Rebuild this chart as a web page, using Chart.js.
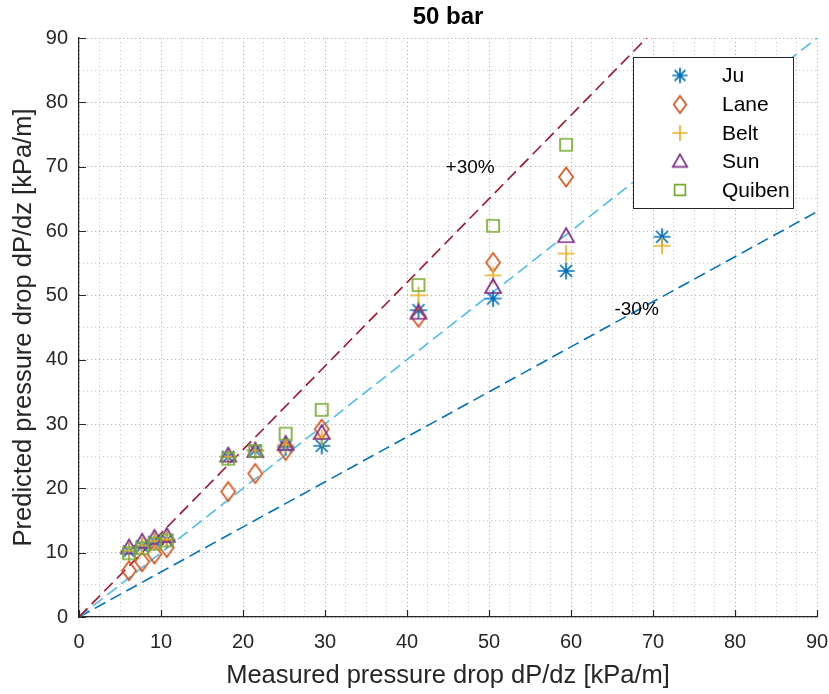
<!DOCTYPE html>
<html>
<head>
<meta charset="utf-8">
<script src="https://cdn.jsdelivr.net/npm/chart.js@4/dist/chart.umd.min.js"></script>
<style>
  html, body { margin: 0; padding: 0; background: #ffffff; }
  #wrap { width: 829px; height: 694px; position: relative; }
</style>
</head>
<body>
<div id="wrap"><canvas id="c" width="829" height="694"></canvas></div>
<script>
// ---------- data ----------
const chartTitle = '50 bar';
const xTitle = 'Measured pressure drop dP/dz [kPa/m]';
const yTitle = 'Predicted pressure drop dP/dz [kPa/m]';
const seriesNames = ['Ju', 'Lane', 'Belt', 'Sun', 'Quiben'];
const measured = [6.1, 7.7, 9.2, 10.7, 18.2, 21.5, 25.2, 29.6, 41.4, 50.5, 59.4, 71.1];
const juPred     = [10.2, 11.0, 11.7, 12.0, 24.9, 25.9, 26.5, 26.6, 47.7, 49.5, 53.8, 59.1];
const lanePred   = [7.2, 8.6, 9.8, 10.8, 19.5, 22.3, 25.9, 29.2, 46.6, 55.1, 68.4];
const beltPred   = [10.3, 11.1, 11.8, 12.1, 24.9, 25.9, 26.8, 27.8, 50.0, 53.1, 56.5, 57.7];
const sunPred    = [10.8, 11.7, 12.3, 12.6, 25.1, 25.8, 26.9, 28.6, 47.3, 51.3, 59.2];
const quibenPred = [9.9, 10.7, 11.4, 11.9, 24.6, 25.8, 28.5, 32.2, 51.6, 60.8, 73.4];
const plus30X = [0, 69.23], plus30Y = [0, 90];
const equalX = [0, 90], equalY = [0, 90];
const minus30X = [0, 90], minus30Y = [0, 63];
const plus30Label = '+30%', plus30LabelAt = [47.7, 69.8];
const minus30Label = '-30%', minus30LabelAt = [68.0, 47.7];
const axisMin = 0, axisMax = 90;
const majorTicks = [0, 10, 20, 30, 40, 50, 60, 70, 80, 90];

// ---------- styles ----------
const FONT = "'Liberation Sans', Arial, Helvetica, sans-serif";
const TXT = '#262626';
const colors = ['#0072BD', '#D95319', '#EDB120', '#7E2F8E', '#77AC30'];
const markerTypes = ['star', 'diamond', 'plus', 'triangle', 'square'];

function makeMarker(type, color, scale) {
  const s = scale || 1;
  const c = document.createElement('canvas');
  c.width = 24; c.height = 24;
  const g = c.getContext('2d');
  g.strokeStyle = color; g.lineWidth = 1.7; g.lineJoin = 'miter';
  const m = 12;
  g.beginPath();
  if (type === 'star') {
    const a = 8.5 * s, d = 6.0 * s;
    g.moveTo(m, m - a); g.lineTo(m, m + a);
    g.moveTo(m - a, m); g.lineTo(m + a, m);
    g.moveTo(m - d, m - d); g.lineTo(m + d, m + d);
    g.moveTo(m - d, m + d); g.lineTo(m + d, m - d);
  } else if (type === 'diamond') {
    const h = 9.5 * s, w = 7 * s;
    g.moveTo(m, m - h); g.lineTo(m + w, m); g.lineTo(m, m + h); g.lineTo(m - w, m); g.closePath();
  } else if (type === 'plus') {
    const a = 8.5 * s;
    g.moveTo(m, m - a); g.lineTo(m, m + a);
    g.moveTo(m - a, m); g.lineTo(m + a, m);
  } else if (type === 'triangle') {
    const w = 8 * s, t = 8 * s, b = 6 * s;
    g.moveTo(m, m - t); g.lineTo(m + w, m + b); g.lineTo(m - w, m + b); g.closePath();
  } else {
    const h = 6 * s;
    g.rect(m - h, m - h, 2 * h, 2 * h);
  }
  g.stroke();
  return c;
}

const markers = markerTypes.map((t, i) => makeMarker(t, colors[i], 1));
const legendMarkers = markerTypes.map((t, i) => makeMarker(t, colors[i], 0.9));

function pts(xs, ys) { return ys.map((y, i) => ({ x: xs[i], y: y })); }

const predictions = [juPred, lanePred, beltPred, sunPred, quibenPred];
const pointSets = seriesNames.map((name, i) => ({
  label: name,
  data: pts(measured, predictions[i]),
  pointStyle: markers[i],
  pointRadius: 8,
  showLine: false,
  order: 5 - i,
  borderColor: colors[i],
  backgroundColor: colors[i]
}));

function refLine(xs, ys, color) {
  return {
    label: '_ref',
    data: pts(xs, ys),
    showLine: true,
    borderColor: color,
    borderWidth: 1.6,
    borderDash: [12, 6],
    pointRadius: 0,
    fill: false,
    order: 10
  };
}

const datasets = [
  refLine(plus30X, plus30Y, '#A2142F'),
  refLine(equalX, equalY, '#4DBEEE'),
  refLine(minus30X, minus30Y, '#0072BD')
].concat(pointSets);

// ---------- plugin: inward ticks, annotations, legend ----------
const decor = {
  id: 'decor',
  afterDatasetsDraw(chart) {
    const ctx = chart.ctx;
    const xs = chart.scales.x, ys = chart.scales.y;
    const area = chart.chartArea;
    ctx.save();
    // inward major ticks
    ctx.strokeStyle = TXT; ctx.lineWidth = 1.2;
    ctx.beginPath();
    majorTicks.forEach(v => {
      const px = Math.round(xs.getPixelForValue(v)) + 0.5;
      ctx.moveTo(px, area.bottom); ctx.lineTo(px, area.bottom - 7);
      const py = Math.round(ys.getPixelForValue(v)) + 0.5;
      ctx.moveTo(area.left, py); ctx.lineTo(area.left + 7, py);
    });
    ctx.stroke();
    // annotations
    ctx.fillStyle = '#000000';
    ctx.font = '19px ' + FONT;
    ctx.textAlign = 'center'; ctx.textBaseline = 'middle';
    ctx.fillText(plus30Label, xs.getPixelForValue(plus30LabelAt[0]), ys.getPixelForValue(plus30LabelAt[1]));
    ctx.fillText(minus30Label, xs.getPixelForValue(minus30LabelAt[0]), ys.getPixelForValue(minus30LabelAt[1]));
    // legend box
    const bx = 633.5, by = 57.5, bw = 160, bh = 151;
    ctx.fillStyle = '#ffffff';
    ctx.fillRect(bx, by, bw, bh);
    ctx.strokeStyle = TXT; ctx.lineWidth = 1;
    ctx.strokeRect(bx, by, bw, bh);
    const rowY = [75.5, 104.5, 133, 161.5, 190];
    ctx.font = '21px ' + FONT;
    ctx.textAlign = 'left'; ctx.textBaseline = 'middle';
    ctx.fillStyle = '#000000';
    seriesNames.forEach((n, i) => {
      const mk = legendMarkers[i];
      ctx.drawImage(mk, 680 - mk.width / 2, rowY[i] - mk.height / 2);
      ctx.fillText(n, 722, rowY[i] + 1);
    });
    ctx.restore();
  }
};

const gridColor = (ctx) => {
  const v = ctx.tick ? ctx.tick.value : 0;
  return (v % 10 === 0) ? '#a8a8a8' : '#c4c4c4';
};

new Chart(document.getElementById('c'), {
  type: 'scatter',
  data: { datasets: datasets },
  plugins: [decor],
  options: {
    responsive: false,
    animation: false,
    events: [],
    layout: { padding: { left: 0, right: 0, top: 0, bottom: 0 } },
    plugins: {
      legend: { display: false },
      tooltip: { enabled: false },
      title: {
        display: true,
        text: chartTitle,
        fullSize: false,
        color: '#000000',
        font: { family: FONT, size: 24, weight: 'bold' },
        padding: { top: 2.5, bottom: 6.7 }
      }
    },
    scales: {
      x: {
        type: 'linear',
        min: axisMin, max: axisMax,
        afterFit: (s) => { s.height = 77; s.paddingRight = 12; s.paddingLeft = 0; },
        ticks: {
          stepSize: 2.5,
          autoSkip: false,
          maxRotation: 0,
          padding: 13,
          color: TXT,
          font: { family: FONT, size: 20 },
          callback: (v) => (v % 10 === 0 ? String(v) : '')
        },
        grid: { color: gridColor, lineWidth: 1, drawTicks: false },
        border: { display: true, color: TXT, width: 1.2, dash: [1, 3] },
        title: {
          display: true, text: xTitle, color: TXT,
          font: { family: FONT, size: 25.5 },
          padding: { top: 0, bottom: 3 }
        }
      },
      y: {
        type: 'linear',
        min: axisMin, max: axisMax,
        afterFit: (s) => { s.width = 79; s.paddingTop = 0; s.paddingBottom = 0; },
        ticks: {
          stepSize: 5,
          autoSkip: false,
          padding: 11,
          color: TXT,
          font: { family: FONT, size: 20 },
          callback: (v) => (v % 10 === 0 ? String(v) : '')
        },
        grid: { color: gridColor, lineWidth: 1, drawTicks: false },
        border: { display: true, color: TXT, width: 1.2, dash: [1, 3] },
        title: {
          display: true, text: yTitle, color: TXT,
          font: { family: FONT, size: 25.5 },
          padding: { top: 9, bottom: 0 }
        }
      }
    }
  }
});
</script>
</body>
</html>
